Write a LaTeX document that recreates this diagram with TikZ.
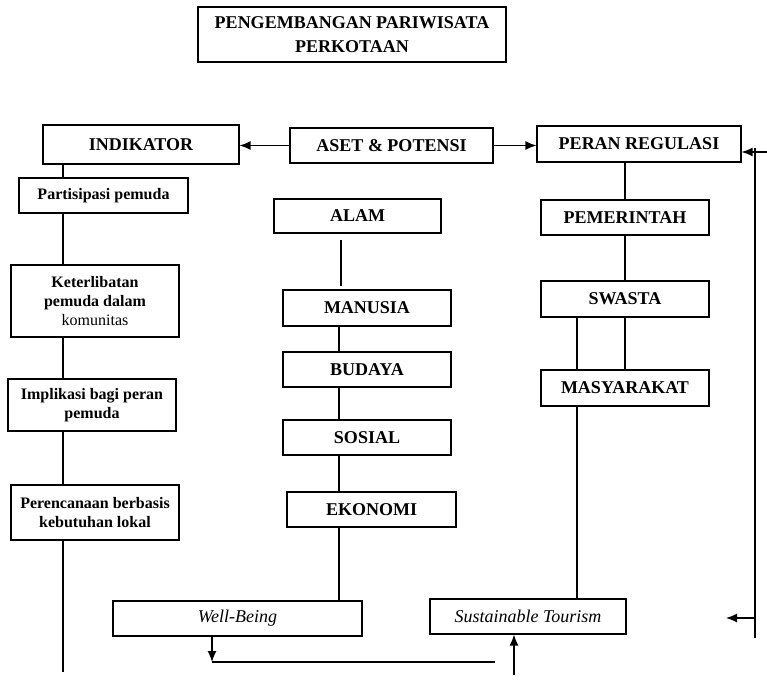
\documentclass[tikz,border=0pt]{standalone}
\usepackage{fontspec}
\setmainfont{Liberation Serif}
\usepackage{tikz}
\usetikzlibrary{shapes,arrows.meta,positioning,calc}
\tikzstyle{kotak} = [draw,line width=1.1pt,rectangle,inner sep=0,align=center,font=\fontsize{18}{20}\selectfont\bfseries]
\tikzstyle{kecil} = [kotak,font=\fontsize{16}{19}\selectfont\bfseries]
\tikzstyle{miring} = [kotak,font=\fontsize{18}{20}\selectfont\itshape]
\tikzstyle{garis} = [-,line width=1.2pt]
\tikzstyle{panah} = [-{Latex[length=11pt,width=9pt]},line width=1.2pt]
\def \lb {168}
\def \tg {35}

\begin{document}
\begin{tikzpicture}[x=1pt,y=-1pt]
      \useasboundingbox (0,0) rectangle (767,692);
      % judul dan baris atas
      \node[kotak,minimum width=308,minimum height=55,font=\fontsize{18}{24}\selectfont\bfseries] (judul) at (352,34.5) {PENGEMBANGAN PARIWISATA\\PERKOTAAN};
      \node[kotak,minimum width=196,minimum height=39] (indikator) at (141,144.5) {INDIKATOR};
      \node[kotak,minimum width=203,minimum height=\tg] (aset) at (391.5,145.5) {ASET \& POTENSI};
      \node[kotak,minimum width=204,minimum height=36] (peran) at (639,144) {PERAN REGULASI};
      \draw[panah] (aset.west) -- (aset.west -| indikator.east);
      \draw[panah] (aset.east) -- (aset.east -| peran.west);
      % kolom kiri
      \coordinate (kiri) at (63,0);
      \node[kecil,minimum width=169,minimum height=\tg] (partisipasi) at (103.5,195.5) {Partisipasi pemuda};
      \node[kecil,minimum width=\lb,minimum height=72] (keterlibatan) at (95,301) {Keterlibatan\\pemuda dalam\\\mdseries komunitas};
      \node[kecil,minimum width=\lb,minimum height=52] (implikasi) at (92,405) {Implikasi bagi peran\\pemuda};
      \node[kecil,minimum width=\lb,minimum height=55] (perencanaan) at (95,512.5) {Perencanaan berbasis\\kebutuhan lokal};
      \coordinate (kiribawah) at (63,672);
      \draw[garis] (indikator.south -| kiri) -- (partisipasi.north -| kiri);
      \draw[garis] (partisipasi.south -| kiri) -- (keterlibatan.north -| kiri);
      \draw[garis] (keterlibatan.south -| kiri) -- (implikasi.north -| kiri);
      \draw[garis] (implikasi.south -| kiri) -- (perencanaan.north -| kiri);
      \draw[garis] (perencanaan.south -| kiri) -- (kiribawah);
      % kolom tengah
      \coordinate (tengah) at (339,0);
      \node[kotak,minimum width=167,minimum height=34] (alam) at (357.5,216) {ALAM};
      \node[kotak,minimum width=\lb,minimum height=36] (manusia) at (367,308) {MANUSIA};
      \node[kotak,minimum width=\lb,minimum height=\tg] (budaya) at (367,369.5) {BUDAYA};
      \node[kotak,minimum width=\lb,minimum height=\tg] (sosial) at (367,437.5) {SOSIAL};
      \node[kotak,minimum width=169,minimum height=\tg] (ekonomi) at (371.5,509.5) {EKONOMI};
      \draw[garis,shorten <=6pt,shorten >=3pt] ($(alam.south -| tengah)+(2,0)$) -- ($(manusia.north -| tengah)+(2,0)$);
      \draw[garis] (manusia.south -| tengah) -- (budaya.north -| tengah);
      \draw[garis] (budaya.south -| tengah) -- (sosial.north -| tengah);
      \draw[garis] (sosial.south -| tengah) -- (ekonomi.north -| tengah);
      % kolom kanan
      \coordinate (kanan) at (577,0);
      \node[kotak,minimum width=\lb,minimum height=\tg] (pemerintah) at (625,217.5) {PEMERINTAH};
      \node[kotak,minimum width=\lb,minimum height=36] (swasta) at (625,299) {SWASTA};
      \node[kotak,minimum width=\lb,minimum height=36] (masyarakat) at (625,388) {MASYARAKAT};
      \draw[garis] (pemerintah.north |- peran.south) -- (pemerintah.north);
      \draw[garis] (pemerintah.south) -- (swasta.north);
      \draw[garis] (swasta.south) -- (masyarakat.north);
      \draw[garis] (swasta.south -| kanan) -- (masyarakat.north -| kanan);
      \draw[garis] ($(manusia.north east)+(0,3)$) -- ($(manusia.north east)+(0,3)$ -| swasta.west);
      % baris bawah
      \node[miring,minimum width=249,minimum height=\tg] (wellbeing) at (237.5,618.5) {Well-Being};
      \node[miring,minimum width=196,minimum height=\tg] (sustainable) at (528,616.5) {Sustainable Tourism};
      \draw[garis] (ekonomi.south -| tengah) -- (wellbeing.north -| tengah);
      \draw[garis] (masyarakat.south -| kanan) -- (sustainable.north -| kanan);
      \coordinate (sudut) at (212,662);
      \coordinate (ujung) at (495,662);
      \draw[panah] (wellbeing.south -| sudut) -- (sudut);
      \draw[garis] (sudut) -- (ujung);
      \coordinate (pangkal) at (514,675);
      \draw[panah] (pangkal) -- (sustainable.south -| pangkal);
      % garis balik kanan
      \coordinate (atas) at (755,148);
      \coordinate (bawah) at (755,638);
      \coordinate (tepi) at (767,152);
      \coordinate (mata) at (726,618);
      \draw[garis] (atas) -- (bawah);
      \draw[panah] (tepi) -- (tepi -| peran.east);
      \draw[panah] (mata -| atas) -- (mata);
    \end{tikzpicture}
\end{document}
